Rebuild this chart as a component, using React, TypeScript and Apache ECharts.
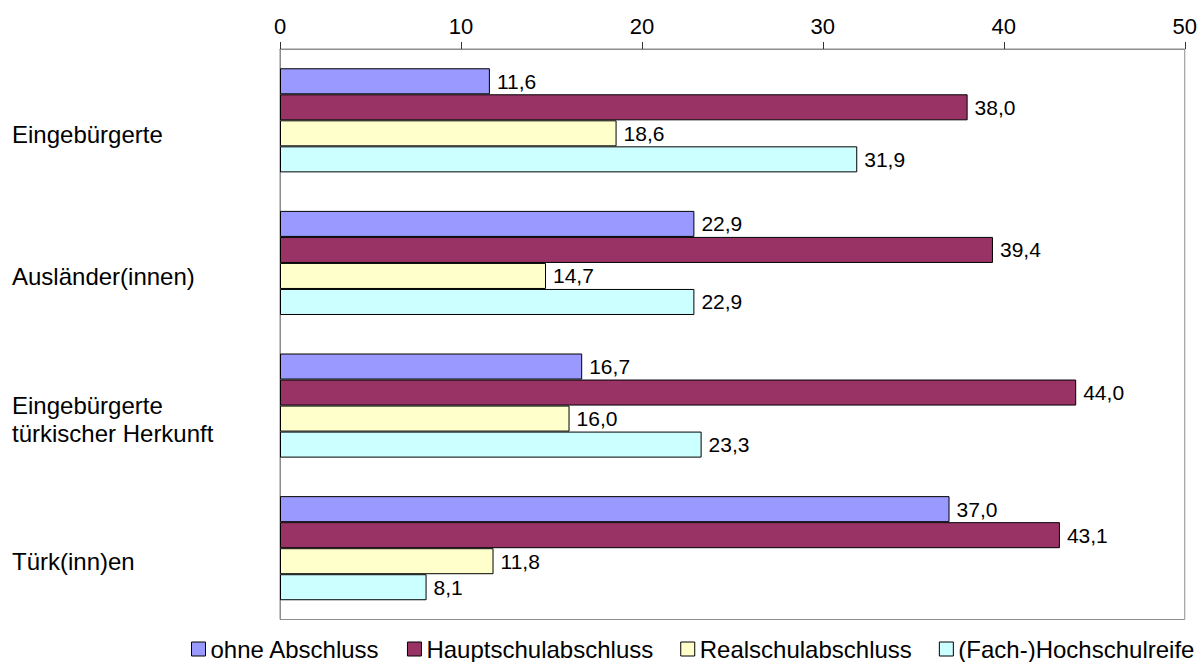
import React, { useEffect, useRef } from "react";
import * as echarts from "echarts";

const categories = ["Eingebürgerte", "Ausländer(innen)", "Eingebürgerte\ntürkischer Herkunft", "Türk(inn)en"];
const seriesNames = ["ohne Abschluss", "Hauptschulabschluss", "Realschulabschluss", "(Fach-)Hochschulreife"];
const ohneAbschluss = [11.6, 22.9, 16.7, 37.0];
const hauptschul = [38.0, 39.4, 44.0, 43.1];
const realschul = [18.6, 14.7, 16.0, 11.8];
const hochschul = [31.9, 22.9, 23.3, 8.1];
const colors = ["#9999FF", "#993366", "#FFFFCC", "#CCFFFF"];
const xTicks = { min: 0, max: 50, interval: 10 };

export default function App() {
  const ref = useRef<HTMLDivElement>(null);
  useEffect(() => {
    if (!ref.current) return;
    const chart = echarts.init(ref.current, undefined, { renderer: "svg" });
    const font = "Arial, 'Liberation Sans', sans-serif";
    const values = [ohneAbschluss, hauptschul, realschul, hochschul];
    chart.setOption({
      animation: false,
      textStyle: { fontFamily: font },
      grid: {
        left: 280,
        right: 14,
        top: 49,
        bottom: 42.5,
        show: true,
        borderColor: "#8c8c8c",
        borderWidth: 1,
        backgroundColor: "#fff",
      },
      legend: {
        top: 637,
        left: 191,
        width: 1100,
        padding: 0,
        itemWidth: 14,
        itemHeight: 14,
        itemGap: 27,
        icon: "rect",
        textStyle: { fontSize: 24, color: "#000", fontFamily: font },
        data: seriesNames.map((n, i) => ({
          name: n,
          itemStyle: { color: colors[i], borderColor: "#000", borderWidth: 1 },
        })),
      },
      xAxis: {
        type: "value",
        position: "top",
        min: xTicks.min,
        max: xTicks.max,
        interval: xTicks.interval,
        splitLine: { show: false },
        axisLine: { show: true, lineStyle: { color: "#8c8c8c" } },
        axisTick: { show: true, length: 7, lineStyle: { color: "#333" } },
        axisLabel: { fontSize: 22, color: "#000", margin: 12, fontFamily: font },
      },
      yAxis: {
        type: "category",
        inverse: true,
        data: categories,
        axisLine: { show: true, lineStyle: { color: "#8c8c8c" } },
        axisTick: { show: false },
        axisLabel: {
          fontSize: 24,
          color: "#000",
          align: "left",
          margin: 268,
          lineHeight: 27.5,
          fontFamily: font,
          formatter: (v: string) => "\n" + v,
        },
      },
      series: seriesNames.map((name, i) => ({
        name,
        type: "bar",
        data: values[i],
        barGap: "0%",
        barCategoryGap: "27%",
        itemStyle: { color: colors[i], borderColor: "#000", borderWidth: 1 },
        label: {
          show: true,
          position: "right",
          distance: 7,
          fontSize: 21,
          color: "#000",
          fontFamily: font,
          formatter: (p: any) => p.value.toFixed(1).replace(".", ","),
        },
      })),
    });
    return () => chart.dispose();
  }, []);
  return <div ref={ref} style={{ width: 1200, height: 662, position: "absolute", left: 0, top: 0 }} />;
}
